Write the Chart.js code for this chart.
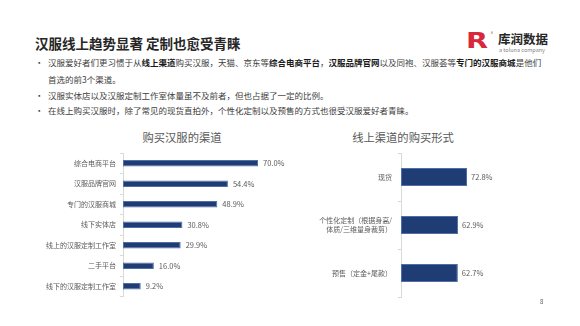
<!DOCTYPE html>
<html>
<head>
<meta charset="utf-8">
<script src="https://cdn.jsdelivr.net/npm/chart.js@4.4.1/dist/chart.umd.min.js"></script>
<style>
  html, body { margin: 0; padding: 0; background: #fff; }
  body { width: 580px; height: 326px; position: relative; overflow: hidden;
         font-family: "Noto Sans CJK SC", "Noto Sans", sans-serif; }
  .abs { position: absolute; white-space: nowrap; }
  .title { left: 35px; top: 34px; font-size: 13.5px; font-weight: bold; color: #262626; line-height: 18px; }
  .line { left: 48px; font-size: 8.5px; color: #404040; line-height: 12px; }
  .line b { color: #1a1a1a; }
  .dot { left: 35px; font-size: 8.5px; color: #404040; line-height: 12px; }
  .ctitle { font-size: 11.3px; color: #595959; line-height: 14px; transform: translateX(-50%); }
  .logoR { left: 466px; top: 29px; font-size: 22px; font-weight: 900; color: #d7283c; line-height: 24px;
           font-family: "DejaVu Sans", sans-serif; transform: scaleX(1.3); transform-origin: left top; }
  .logoReg { left: 491px; top: 30px; font-size: 4px; color: #d7283c; }
  .logoCn { left: 498px; top: 31px; font-size: 12.5px; font-weight: bold; color: #262626; line-height: 16px; }
  .logoEn { left: 499px; top: 47px; font-size: 5.5px; color: #7f7f7f; line-height: 7px; }
  .page { left: 540px; top: 297px; font-size: 6px; color: #595959; }
  canvas { position: absolute; }
</style>
</head>
<body>
<div class="abs title">汉服线上趋势显著 定制也愈受青睐</div>

<div class="abs logoR">R</div>
<div class="abs logoReg">®</div>
<div class="abs logoCn">库润数据</div>
<div class="abs logoEn">a toluna company</div>

<div class="abs dot" style="top:56px">•</div>
<div class="abs line" style="top:56px">汉服爱好者们更习惯于从<b>线上渠道</b>购买汉服，天猫、京东等<b>综合电商平台</b>，<b>汉服品牌官网</b>以及同袍、汉服荟等<b>专门的汉服商城</b>是他们</div>
<div class="abs line" style="top:73px">首选的前3个渠道。</div>
<div class="abs dot" style="top:89px">•</div>
<div class="abs line" style="top:89px">汉服实体店以及汉服定制工作室体量虽不及前者，但也占据了一定的比例。</div>
<div class="abs dot" style="top:104px">•</div>
<div class="abs line" style="top:104px">在线上购买汉服时，除了常见的现货直拍外，个性化定制以及预售的方式也很受汉服爱好者青睐。</div>

<div class="abs ctitle" style="left:182px; top:130px">购买汉服的渠道</div>
<div class="abs ctitle" style="left:403px; top:130px">线上渠道的购买形式</div>

<canvas id="channelChart" width="300" height="170" style="left:0; top:140px"></canvas>
<canvas id="formChart" width="280" height="170" style="left:300px; top:140px"></canvas>

<div class="abs page">8</div>

<script>
// 购买汉服的渠道
const channelLabels = ['综合电商平台', '汉服品牌官网', '专门的汉服商城', '线下实体店', '线上的汉服定制工作室', '二手平台', '线下的汉服定制工作室'];
const channelValues = [70.0, 54.4, 48.9, 30.8, 29.9, 16.0, 9.2];

// 线上渠道的购买形式
const formLabels = [['现货'], ['个性化定制（根据身高/', '体质/三维量身裁剪）'], ['预售（定金+尾款）']];
const formValues = [72.8, 62.9, 62.7];

const barFill = '#1f3c74';
const barEdge = '#4d70aa';
const greyText = '#595959';
const fontFamily = '"Noto Sans CJK SC", "Noto Sans", sans-serif';

// 在柱子末端写数值
const valueLabels = {
    id: 'valueLabels',
    afterDatasetsDraw(chart, args, opts) {
        const ctx = chart.ctx;
        const meta = chart.getDatasetMeta(0);
        ctx.save();
        ctx.fillStyle = greyText;
        ctx.font = opts.size + 'px ' + fontFamily;
        ctx.textBaseline = 'middle';
        ctx.textAlign = 'left';
        meta.data.forEach((bar, i) => {
            const v = chart.data.datasets[0].data[i];
            ctx.fillText(v.toFixed(1) + '%', bar.x + opts.gap, bar.y);
        });
        ctx.restore();
    }
};

function makeChart(id, labels, values, cfg) {
    return new Chart(document.getElementById(id), {
        type: 'bar',
        data: {
            labels: labels,
            datasets: [{
                data: values,
                backgroundColor: barFill,
                borderColor: barEdge,
                borderWidth: 1,
                borderSkipped: false,
                categoryPercentage: 1,
                barPercentage: cfg.barPct
            }]
        },
        options: {
            indexAxis: 'y',
            responsive: false,
            animation: false,
            layout: { padding: { left: 0, right: cfg.padRight, top: cfg.padTop, bottom: cfg.padBottom } },
            plugins: {
                legend: { display: false },
                title: { display: false },
                tooltip: { enabled: false },
                valueLabels: { size: 7.5, gap: cfg.gap }
            },
            scales: {
                x: { display: false, min: 0, max: cfg.max },
                y: {
                    afterFit: (scale) => { scale.width = cfg.axisWidth; },
                    grid: { display: true, drawOnChartArea: false, offset: true, tickLength: 3, color: '#d9d9d9' },
                    border: { display: true, color: '#d9d9d9', width: 1 },
                    ticks: { color: greyText, padding: cfg.tickPad, font: { family: fontFamily, size: 7 }, autoSkip: false }
                }
            }
        },
        plugins: [valueLabels]
    });
}

makeChart('channelChart', channelLabels, channelValues,
    { barPct: 0.32, max: 80, axisWidth: 123, padRight: 22.7, padTop: 13, padBottom: 13.5, tickPad: 4, gap: 5 });
makeChart('formChart', formLabels, formValues,
    { barPct: 0.37, max: 100, axisWidth: 101, padRight: 88.3, padTop: 13, padBottom: 13, tickPad: 6, gap: 4 });
</script>
</body>
</html>
